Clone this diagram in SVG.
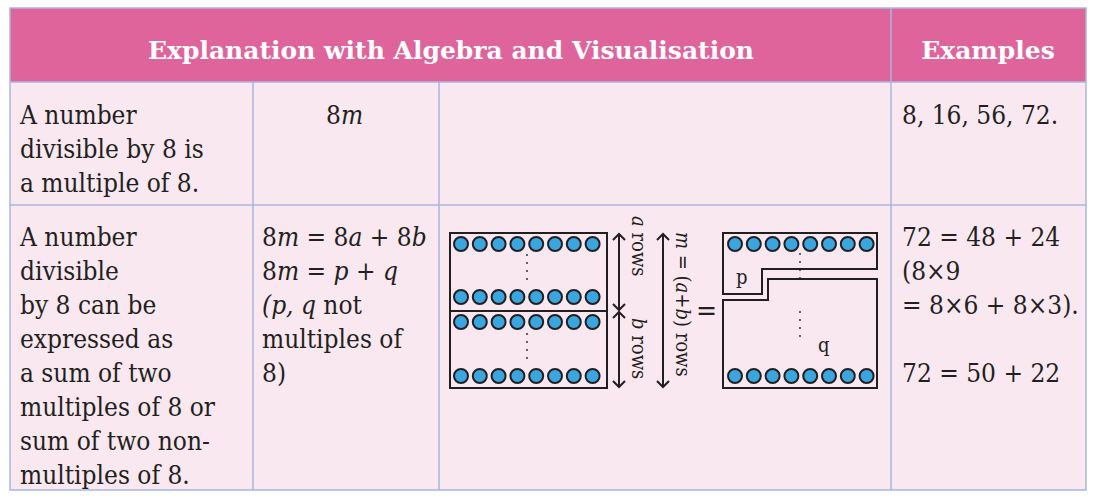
<svg xmlns="http://www.w3.org/2000/svg" width="1116" height="502" viewBox="0 0 1116 502">
<style>
.t{font-family:"DejaVu Serif Condensed","DejaVu Serif",serif;font-size:26px;fill:#231f20}
.h{font-family:"DejaVu Serif",serif;font-size:25px;font-weight:bold;fill:#fff}
.s{font-family:"DejaVu Serif Condensed","DejaVu Serif",serif;font-size:20px;fill:#231f20}
.g{stroke:#a9b6de;stroke-width:1.5;fill:none}
.bx{fill:none;stroke:#231f20;stroke-width:2}
.d{fill:#231f20}
.ar{stroke:#231f20;stroke-width:2;fill:none}
</style>
<defs>
<g id="row" fill="#3aa6e0" stroke="#231f20" stroke-width="2"><circle cx="0" cy="0" r="7"/><circle cx="18.8" cy="0" r="7"/><circle cx="37.6" cy="0" r="7"/><circle cx="56.4" cy="0" r="7"/><circle cx="75.2" cy="0" r="7"/><circle cx="94" cy="0" r="7"/><circle cx="112.8" cy="0" r="7"/><circle cx="131.6" cy="0" r="7"/></g>
<g id="dots"><circle cx="0" cy="0" r="0.9"/><circle cx="0" cy="8" r="0.9"/><circle cx="0" cy="16" r="0.9"/><circle cx="0" cy="24" r="0.9"/></g>
</defs>
<rect width="1116" height="502" fill="#fff"/>
<g id="table">
<rect x="10" y="8" width="1076" height="74" fill="#e0649c"/>
<rect x="10" y="82" width="1076" height="408" fill="#f9e8f0"/>
<rect x="10" y="8" width="1076" height="482" class="g"/>
<line x1="10" y1="82" x2="1086" y2="82" class="g"/>
<line x1="10" y1="205" x2="1086" y2="205" class="g"/>
<line x1="891" y1="8" x2="891" y2="490" class="g"/>
<line x1="253" y1="82" x2="253" y2="490" class="g"/>
<line x1="439" y1="82" x2="439" y2="490" class="g"/>
<text x="451" y="59" text-anchor="middle" class="h">Explanation with Algebra and Visualisation</text>
<text x="988" y="59" text-anchor="middle" class="h">Examples</text>
</g>
<g id="row1" class="t">
<text x="20" y="124">A number</text>
<text x="20" y="158">divisible by 8 is</text>
<text x="20" y="192">a multiple of 8.</text>
<text x="326" y="124">8<tspan font-style="italic">m</tspan></text>
<text x="902" y="124">8, 16, 56, 72.</text>
</g>
<g id="row2" class="t">
<text x="20" y="246">A number</text>
<text x="20" y="280">divisible</text>
<text x="20" y="314">by 8 can be</text>
<text x="20" y="348">expressed as</text>
<text x="20" y="382">a sum of two</text>
<text x="20" y="416">multiples of 8 or</text>
<text x="20" y="450">sum of two non-</text>
<text x="20" y="484">multiples of 8.</text>
<text x="262" y="246">8<tspan font-style="italic">m</tspan> = 8<tspan font-style="italic">a</tspan> + 8<tspan font-style="italic">b</tspan></text>
<text x="262" y="280">8<tspan font-style="italic">m</tspan> = <tspan font-style="italic">p</tspan> + <tspan font-style="italic">q</tspan></text>
<text x="262" y="314" font-style="italic">(p, q <tspan font-style="normal">not</tspan></text>
<text x="262" y="348">multiples of</text>
<text x="262" y="382">8)</text>
<text x="902" y="246">72 = 48 + 24</text>
<text x="902" y="280">(8×9</text>
<text x="902" y="314">= 8×6 + 8×3).</text>
<text x="902" y="382">72 = 50 + 22</text>
</g>
<g id="left-array">
<rect x="450" y="233" width="157" height="155" class="bx"/>
<line x1="450" y1="311" x2="607" y2="311" class="bx"/>
<use href="#row" x="461" y="244"/><use href="#row" x="461" y="297"/>
<use href="#row" x="461" y="322"/><use href="#row" x="461" y="376"/>
<use href="#dots" x="527" y="255" class="d"/><use href="#dots" x="527" y="334" class="d"/>
</g>
<g id="connectors">
<path d="M619,234 V310 M613,240 L619,234 L625,240 M613,304 L619,310 L625,304" class="ar"/>
<path d="M619,312 V387 M613,318 L619,312 L625,318 M613,381 L619,387 L625,381" class="ar"/>
<path d="M663,234 V387 M657,240 L663,234 L669,240 M657,381 L663,387 L669,381" class="ar"/>
</g>
<g id="labels" class="s">
<text transform="translate(632,216) rotate(90)"><tspan font-style="italic">a</tspan> rows</text>
<text transform="translate(632,318) rotate(90)"><tspan font-style="italic">b</tspan> rows</text>
<text transform="translate(676,232) rotate(90)"><tspan font-style="italic">m</tspan> = (<tspan font-style="italic">a</tspan>+<tspan font-style="italic">b</tspan>) rows</text>
<text x="696" y="320" font-size="28">=</text>
</g>
<g id="right-array">
<path d="M723,233 H877 V269 H762 V294 H723 Z" class="bx"/>
<path d="M723,300 H768 V279 H877 V388 H723 Z" class="bx"/>
<use href="#row" x="735" y="244"/><use href="#row" x="735" y="376"/>
<use href="#dots" x="800" y="254" class="d"/><use href="#dots" x="800" y="312" class="d"/>
<text x="736" y="284" class="s">p</text>
<text x="818" y="352" class="s">q</text>
</g>
</svg>
